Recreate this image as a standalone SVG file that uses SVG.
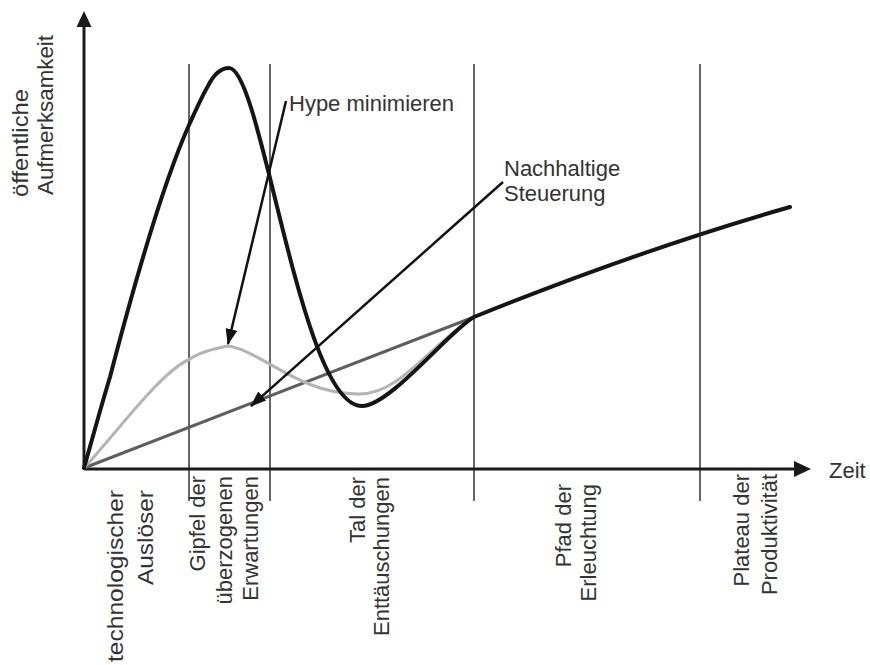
<svg xmlns="http://www.w3.org/2000/svg" width="870" height="665" viewBox="0 0 870 665">
  <style>
    text { font-family: "Liberation Sans", Arial, sans-serif; font-size: 22px; fill: #333; }
    .phase { stroke: #333; stroke-width: 1.5; fill: none; }
    .axis { stroke: #1a1a1a; stroke-width: 3; fill: none; }
    .hype { stroke: #151515; stroke-width: 4; fill: none; stroke-linecap: round; }
    .managed { stroke: #b4b4b4; stroke-width: 3; fill: none; stroke-linejoin: round; }
    .steady { stroke: #5e5e5e; stroke-width: 3; fill: none; }
    .pointer { stroke: #111; stroke-width: 2.5; fill: none; marker-end: url(#head); }
  </style>
  <defs>
    <marker id="head" viewBox="0 0 16 12" refX="15" refY="6" markerWidth="16" markerHeight="12" markerUnits="userSpaceOnUse" orient="auto">
      <path d="M0,0 L16,6 L0,12 Z" fill="#111"/>
    </marker>
  </defs>

  <!-- phase separators -->
  <g id="phases">
    <line class="phase" x1="189" y1="64" x2="189" y2="501"/>
    <line class="phase" x1="270" y1="64" x2="270" y2="501"/>
    <line class="phase" x1="474" y1="64" x2="474" y2="501"/>
    <line class="phase" x1="700" y1="64" x2="700" y2="501"/>
  </g>

  <!-- axes -->
  <g id="axes">
    <line class="axis" x1="84" y1="469" x2="84" y2="24"/>
    <path d="M84,11 L91.5,27 L76.5,27 Z" fill="#1a1a1a"/>
    <line class="axis" x1="84" y1="469" x2="796" y2="469"/>
    <path d="M811,469 L794,461 L794,477 Z" fill="#1a1a1a"/>
  </g>

  <!-- curves -->
  <g id="curves">
    <line class="steady" x1="84" y1="468" x2="474" y2="317"/>
    <path class="managed" d="M84,468 C115,435 160,372 190,359 C200,352 212,349 228,346 C260,350 300,395 360,394 C400,394 430,345 474,317"/>
    <path class="hype" d="M84,468 C92,440 100,410 110,377 C130,300 160,190 189,125 C195,112 202,96 208,86 C213,76 220,68 229,68 C262,68 300,406 362,406 C390,406 450,330 474,317 Q640,250 790,207"/>
  </g>

  <!-- connectors -->
  <g id="connectors">
    <line class="pointer" x1="286" y1="101" x2="228" y2="344"/>
    <line class="pointer" x1="503" y1="182" x2="251" y2="406"/>
  </g>

  <!-- annotations -->
  <g id="label-hype"><text x="289" y="110.5">Hype minimieren</text></g>
  <g id="label-steering">
    <text x="504" y="176">Nachhaltige</text>
    <text x="504" y="201">Steuerung</text>
  </g>
  <g id="label-time"><text x="829" y="478">Zeit</text></g>
  <g id="label-attention">
    <text transform="translate(28,197) rotate(-90)" textLength="108" lengthAdjust="spacingAndGlyphs">öffentliche</text>
    <text transform="translate(53,195) rotate(-90)" textLength="160" lengthAdjust="spacingAndGlyphs">Aufmerksamkeit</text>
  </g>

  <!-- phase names -->
  <g id="phase-trigger" text-anchor="end">
    <text transform="translate(122.5,490) rotate(-90)" textLength="172" lengthAdjust="spacingAndGlyphs">technologischer</text>
    <text transform="translate(153,490) rotate(-90)" textLength="95" lengthAdjust="spacingAndGlyphs">Auslöser</text>
  </g>
  <g id="phase-peak" text-anchor="end">
    <text transform="translate(205,476) rotate(-90)">Gipfel der</text>
    <text transform="translate(232,476) rotate(-90)">überzogenen</text>
    <text transform="translate(258,476) rotate(-90)">Erwartungen</text>
  </g>
  <g id="phase-trough" text-anchor="end">
    <text transform="translate(365,477) rotate(-90)">Tal der</text>
    <text transform="translate(388.5,477) rotate(-90)">Enttäuschungen</text>
  </g>
  <g id="phase-slope" text-anchor="end">
    <text transform="translate(570.5,484) rotate(-90)">Pfad der</text>
    <text transform="translate(595.5,484) rotate(-90)">Erleuchtung</text>
  </g>
  <g id="phase-plateau" text-anchor="end">
    <text transform="translate(748.5,474) rotate(-90)">Plateau der</text>
    <text transform="translate(777,474) rotate(-90)">Produktivität</text>
  </g>
</svg>
